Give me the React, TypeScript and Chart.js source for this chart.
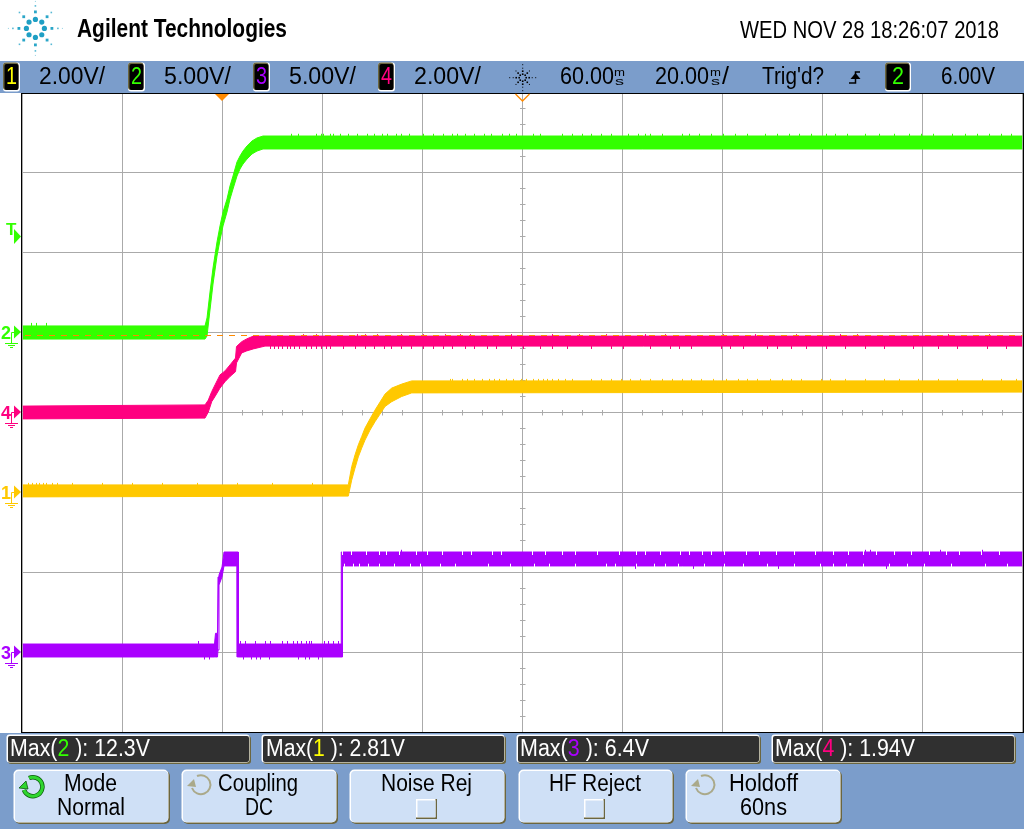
import React, { useEffect, useRef } from "react";
import { Chart, registerables } from "chart.js";

Chart.register(...registerables);

const WIDTH = 1024;
const HEIGHT = 829;
const FONT = "'Liberation Sans', Arial, sans-serif";

const GREEN = "#33ff00";
const PINK = "#ff0080";
const YELLOW = "#ffc800";
const PURPLE = "#aa00ff";
const ORANGE = "#ff8a00";
const GRID = "#aaaaaa";
const BAR = "#7b9dcb";
const BTN = "#cfe0f6";
const KHAKI = "#6b6640";
const BADGE_YELLOW = "#ffff00";

// Channel 2 (5 V/div), envelope of the noisy trace
const ch2Times = [-40, -3.5, -3.1, -2.5, -1.9, -1.1, -0.5, 0.1, 0.9, 1.5, 2.1, 2.9, 3.5, 4.1, 4.9, 5.9, 6.9, 8.1, 160];
const ch2Upper = [0.41, 0.41, 0.91, 2.53, 4.03, 5.66, 6.66, 7.53, 8.34, 9.16, 9.78, 10.66, 11.03, 11.34, 11.66, 11.97, 12.16, 12.28, 12.28];
const ch2Lower = [-0.41, -0.41, -0.22, 1.41, 3.03, 4.78, 5.78, 6.66, 7.53, 8.34, 8.97, 9.78, 10.22, 10.53, 10.84, 11.16, 11.34, 11.47, 11.47];
const ch2SpikeTimes = [13.8, 15.1, 18.7, 19.7, 20.2, 21.6, 22.1, 23.6, 25.1, 27, 29, 30.4, 31.9, 32.9, 34.8, 35.8, 37.3, 40.2, 42.1, 44.1, 46, 47, 48.5, 50.4, 52.4, 53.8, 56, 57.3, 58.7, 62.1, 63.6, 68, 69.9, 71.9, 73.8, 75.8, 77.7, 81.2, 83.1, 84.6, 85.5, 88, 91.9, 93.4, 95.3, 97.7, 100.2, 102.6, 105, 108.5, 110.9, 113.4, 115.3, 117.7, 120.7, 122.6, 125, 128.5, 131.4, 134.3, 137.3, 139.7, 142.1, 146, 148.5, 150.9, 153.4, 155.8, 157.7];
const ch2LeftSpikeTimes = [-38.2, -37.2, -35.3];
const triggerLevelTimes = [-40, 160];
const triggerLevelVolts = [-0.1875, -0.1875];

// Channel 4 (2 V/div)
const ch4Times = [-40, -3.5, -2.84, -2.16, -1.5, -0.5, 0.5, 1.5, 2.6, 2.8, 3.84, 4.84, 6.16, 8.5, 160];
const ch4Upper = [0.16, 0.19, 0.31, 0.52, 0.69, 0.94, 1.04, 1.19, 1.36, 1.65, 1.77, 1.84, 1.91, 1.91, 1.91];
const ch4Lower = [-0.16, -0.14, 0.01, 0.27, 0.4, 0.61, 0.77, 0.9, 1.02, 1.24, 1.49, 1.54, 1.59, 1.66, 1.66];
const ch4DownSpikeTimes = [9.6, 10.4, 11.2, 11.9, 12.9, 13.5, 14.3, 15.3, 16.8, 17.7, 18.7, 19.7, 20.7, 21.6, 24.1, 26.5, 28.5, 30.4, 32.4, 33.8, 35.8, 37.7, 40.2, 42.1, 44.1, 46, 48.5, 50.4, 52.9, 54.8, 57.7, 60.2, 63.6, 66, 69, 73.8, 77.7, 80.2, 85.5, 89.5, 91.4, 93.8, 99.7, 101.6, 104.1, 109, 110.9, 113.8, 116.8, 120.7, 124.6, 128.5, 132.4, 138.2, 143.1, 147, 152.9, 156.8];
const ch4UpSpikeTimes = [16.1, 18.7, 27, 28.5, 30.9, 35.8, 40.2, 44.6, 47.5, 49.5, 57.7, 66, 71.4, 76.8, 84.6, 88.5, 100.2, 106.5, 114.8, 123.6, 127, 145.1, 153.4];

// Channel 1 (2 V/div)
const ch1Times = [-40, 25.16, 25.84, 26.5, 27.16, 27.84, 28.5, 29.5, 30.5, 31.5, 32.5, 33.84, 35.84, 37.84, 160];
const ch1Upper = [0.19, 0.19, 0.645, 0.94, 1.19, 1.4, 1.61, 1.84, 2.06, 2.26, 2.46, 2.61, 2.71, 2.79, 2.79];
const ch1Lower = [-0.11, -0.09, 0.31, 0.61, 0.89, 1.11, 1.31, 1.56, 1.77, 1.96, 2.15, 2.27, 2.4, 2.49, 2.51];
const ch1SpikeTimes = [45.5, 46, 48, 49, 50.4, 51.9, 53.4, 54.3, 55.3, 56.8, 58.2, 59.7, 60.7, 62.1, 63.1, 64.1, 65, 66, 67.2, 68.5, 69.9, 73.8, 75.8, 77.7, 79.7, 81.6, 83.6, 85.5, 88, 89.9, 91.9, 93.8, 95.8, 98.2, 100.7, 103.1, 105, 107, 109.5, 111.9, 113.8, 115.8, 119.7, 121.6, 124.6, 128.5, 132.4, 135.4, 139.2, 143.1, 147, 151.9, 155.8, 158.7];
const ch1LeftSpikeTimes = [-38.8, -38, -37.2, -36.6, -35.8, -35.2, -34, -33, -30, -24, -18, -12, -5, 3, 10, 18];

// Channel 3 (5 V/div)
const ch3Times = [-40, -1.6, -1.4, -1, -0.9, -0.7, -0.1, 0.3, 2.9, 2.95, 3.15, 3.2, 23.7, 23.75, 23.95, 24, 160];
const ch3Upper = [0.53, 0.53, 1.2, 1.2, 4.72, 4.85, 5.34, 6.28, 6.28, 6.28, 6.28, 0.53, 0.53, 6.28, 6.28, 6.28, 6.28];
const ch3Lower = [-0.28, -0.28, -0.28, -0.28, 0.16, 4.22, 4.72, 5.41, 5.41, -0.28, -0.28, -0.28, -0.28, -0.28, -0.28, 5.41, 5.41];
const ch3LowUpSpikeTimes = [-4.9, 3.5, 4.5, 6.5, 8.5, 9.5, 12, 13, 14.1, 15, 15.8, 16.8, 17.4, 17.8, 20.3, 21.1, 22.1, 23.1];
const ch3LowDownSpikeTimes = [-3.7, -2.7, 4.1, 5.8, 6.8, 7.6, 9.3, 15.2, 16.6, 17.4, 19.2];
const ch3HighUpSpikeTimes = [35.7, 128.5, 129.5, 143.5, 152];
const ch3HighDownSpikeTimes = [82.5, 94.2, 111.1, 132.8];
const ch3TopNotchTimes = [23.9, 25.7, 28.7, 31.4, 32.7, 35.3, 38.8, 41, 44, 47.9, 49.7, 54, 55.8, 61.9, 64.5, 68, 70.6, 75, 79.3, 82.8, 84.6, 87.6, 91.6, 93.3, 95.9, 97.7, 100.3, 104.7, 107.3, 110.8, 114.3, 118.6, 122.1, 125.2, 128.2, 130.8, 134.3, 137.8, 141.3, 144.8, 147.4, 151.8, 155.3];
const ch3BottomNotchTimes = [24.4, 26.1, 27.4, 29.2, 31.4, 34.4, 37.5, 39.6, 43.6, 46.6, 53.2, 57.5, 62.3, 65.4, 70.6, 76.7, 78.5, 82.8, 86.3, 88.5, 91.1, 96.4, 100.3, 104.2, 109, 114.3, 119.5, 122.1, 124.7, 128.2, 133.4, 137, 140.4, 145.7, 152.6, 157];

const timeStepMs = 20;
const timeRange = [-40, 160];
const ch2Range = [-25, 15];
const ch4Range = [-8, 8];
const ch1Range = [-6, 10];
const ch3Range = [-5, 35];

const scaleLabels = [
  { badge: "1", color: BADGE_YELLOW, badgeX: 3, text: "2.00V/", x: 39, w: 66 },
  { badge: "2", color: GREEN, badgeX: 128, text: "5.00V/", x: 164, w: 67 },
  { badge: "3", color: PURPLE, badgeX: 253, text: "5.00V/", x: 289, w: 67 },
  { badge: "4", color: PINK, badgeX: 378, text: "2.00V/", x: 414, w: 67 },
];
const measurements = [
  { ch: "2", color: GREEN, value: "12.3V", x: 6, tx: 10, w: 140 },
  { ch: "1", color: BADGE_YELLOW, value: "2.81V", x: 261, tx: 266, w: 139 },
  { ch: "3", color: PURPLE, value: "6.4V", x: 516, tx: 520, w: 129 },
  { ch: "4", color: PINK, value: "1.94V", x: 771, tx: 775, w: 140 },
];
const markers = [
  { label: "2", y: 332, color: GREEN },
  { label: "4", y: 412, color: PINK },
  { label: "1", y: 492, color: YELLOW },
  { label: "3", y: 652, color: PURPLE },
];

function band(times: number[], values: number[]) {
  return times.map((t, i) => ({ x: t, y: values[i] }));
}
// one horizontal screen pixel is 0.2 ms: noise ticks snap to it so they stay crisp
function ticksAt(times: number[], from: number, to: number) {
  const out: { x: number; y: number | null }[] = [];
  times.forEach((t) => {
    const snapped = Math.round(t * 5) / 5;
    out.push({ x: snapped, y: from }, { x: snapped, y: to }, { x: snapped, y: null });
  });
  return out;
}
function bandSets(axis: string, color: string, times: number[], upper: number[], lower: number[]) {
  const common = { yAxisID: axis, showLine: true, pointRadius: 0, borderWidth: 1, borderColor: color, tension: 0, order: 3 };
  return [
    { ...common, data: band(times, upper), fill: "+1", backgroundColor: color },
    { ...common, data: band(times, lower), fill: false },
  ];
}
function tickSet(axis: string, color: string, times: number[], from: number, to: number, order = 2) {
  return {
    yAxisID: axis,
    showLine: true,
    pointRadius: 0,
    borderWidth: 1,
    borderColor: color,
    spanGaps: false,
    fill: false,
    order,
    data: ticksAt(times, from, to),
  };
}

const framePlugin = {
  id: "scopeFrame",
  beforeDatasetsDraw(chart: any) {
    const { ctx, scales } = chart;
    const x = scales.x;
    const y = scales.y2;
    const cx = Math.round(x.getPixelForValue(60) - 0.5) + 0.5;
    const cy = Math.round(y.getPixelForValue(-5) - 0.5) + 0.5;
    ctx.save();
    ctx.strokeStyle = GRID;
    ctx.lineWidth = 1;
    ctx.beginPath();
    for (let t = -36; t < 160; t += 4) {
      const px = Math.round(x.getPixelForValue(t) - 0.5) + 0.5;
      ctx.moveTo(px, cy - 2.5);
      ctx.lineTo(px, cy + 3);
    }
    for (let v = 14; v > -25; v -= 1) {
      const py = Math.round(y.getPixelForValue(v) - 0.5) + 0.5;
      ctx.moveTo(cx - 2.5, py);
      ctx.lineTo(cx + 3, py);
    }
    ctx.stroke();
    ctx.restore();
  },
  afterDraw(chart: any) {
    const { ctx } = chart;
    ctx.save();
    ctx.strokeStyle = "#000000";
    ctx.lineWidth = 1;
    ctx.strokeRect(21.5, 93.5, 1002, 639);
    ctx.restore();
  },
};

function Txt({ x, y, w, size = 23.5, fill = "#000", weight = 400, children }: any) {
  return (
    <text x={x} y={y} textLength={w} lengthAdjust="spacingAndGlyphs" fontSize={size} fill={fill} fontWeight={weight} fontFamily={FONT}>
      {children}
    </text>
  );
}

function Raised({ x, y, w, h, fill, r = 5 }: any) {
  return (
    <g>
      <rect x={x + 1} y={y + 1} width={w} height={h} rx={r} fill={KHAKI} />
      <rect x={x - 0.5} y={y - 0.5} width={w} height={h} rx={r} fill="#ffffff" />
      <rect x={x + 1} y={y + 1} width={w - 2} height={h - 2} rx={r - 1} fill={fill} />
    </g>
  );
}

function Badge({ x, w, label, color }: any) {
  return (
    <g>
      <rect x={x} y={62.5} width={w} height={29} rx={3} fill="#ffffff" />
      <rect x={x} y={62.5} width={w - 1.5} height={27.5} rx={3} fill={KHAKI} />
      <rect x={x + 1.5} y={64} width={w - 3} height={26} rx={2} fill="#000000" />
      <text x={x + w / 2} y={84} textAnchor="middle" fontSize={23.5} fill={color} fontFamily={FONT} textLength={w > 20 ? 12 : 11} lengthAdjust="spacingAndGlyphs">
        {label}
      </text>
    </g>
  );
}

function Refresh({ cx, cy, color, dark }: any) {
  const r = 9.5;
  return (
    <g>
      <path d={`M ${cx - 4} ${cy - r + 0.5} A ${r} ${r} 0 1 1 ${cx - r + 0.5} ${cy + 3}`} fill="none" stroke={dark} strokeWidth={dark === "none" ? 0 : 4.5} />
      <path d={`M ${cx - 4} ${cy - r + 0.5} A ${r} ${r} 0 1 1 ${cx - r + 0.5} ${cy + 3}`} fill="none" stroke={color} strokeWidth={dark === "none" ? 2 : 3} />
      <path d={`M ${cx - 14} ${cy + 1} L ${cx - 7} ${cy - 6} L ${cx - 5} ${cy + 2} Z`} fill={color} stroke={dark === "none" ? "none" : dark} strokeWidth={0.8} />
    </g>
  );
}

function Logo() {
  const cx = 35.4;
  const cy = 28.4;
  const dots: React.ReactNode[] = [];
  for (let i = 0; i < 8; i++) {
    const a = (i * Math.PI) / 4 + Math.PI / 2;
    const c = Math.cos(a);
    const s = Math.sin(a);
    dots.push(<circle key={`a${i}`} cx={cx + 9 * c} cy={cy + 9 * s} r={2.6} fill="#1f9fc4" />);
    dots.push(<rect key={`b${i}`} x={cx + 16.5 * c - 1.4} y={cy + 16.5 * s - 1.4} width={2.8} height={2.8} fill="#2aa6c8" />);
    dots.push(<rect key={`c${i}`} x={cx + 22.5 * c - 0.8} y={cy + 22.5 * s - 0.8} width={1.6} height={1.6} fill="#58b9d4" />);
    if (i % 2 === 0) {
      dots.push(<rect key={`d${i}`} x={cx + 27 * c - 0.5} y={cy + 27 * s - 0.5} width={1} height={1} fill="#8fcfe0" />);
    }
  }
  return <g>{dots}</g>;
}

function Graticon() {
  const cx = 522.7;
  const cy = 77.7;
  const d: React.ReactNode[] = [];
  for (let i = 0; i < 8; i++) {
    const a = (i * Math.PI) / 4;
    [3.5, 6.5, 9.5, 13].forEach((r, j) => {
      if (j === 3 && i % 2) return;
      const sz = j < 2 ? 1.6 : 1;
      d.push(<rect key={`${i}-${j}`} x={cx + r * Math.cos(a) - sz / 2} y={cy + r * Math.sin(a) - sz / 2} width={sz} height={sz} fill="#000" />);
    });
  }
  return <g>{d}</g>;
}

function Marker({ label, y, color }: any) {
  return (
    <g>
      <text x={1} y={y + 7} fontSize={19} fontWeight={700} fill={color} fontFamily={FONT} textLength={10} lengthAdjust="spacingAndGlyphs">
        {label}
      </text>
      <path d={`M 14 ${y - 6.5} L 21 ${y} L 14 ${y + 6.5} Z`} fill={color} />
      <path d={`M 14 ${y + 0.5} H 11.5 V ${y + 11}`} fill="none" stroke={color} strokeWidth={1} />
      <path d={`M 5 ${y + 11.5} H 18 M 8 ${y + 13.5} H 15 M 10 ${y + 15.5} H 13`} fill="none" stroke={color} strokeWidth={1} />
    </g>
  );
}

function CheckBox({ x }: any) {
  return (
    <g>
      <rect x={x} y={799} width={21} height={20} fill={KHAKI} />
      <rect x={x} y={799} width={19.5} height={18.5} fill="#ffffff" />
      <rect x={x + 1.5} y={800.5} width={18} height={16.5} fill={BTN} />
    </g>
  );
}

export default function App() {
  const ref = useRef<HTMLCanvasElement | null>(null);

  useEffect(() => {
    if (!ref.current) return;
    const chart = new Chart(ref.current, {
      type: "scatter",
      data: {
        datasets: [
          {
            yAxisID: "y2",
            showLine: true,
            pointRadius: 0,
            borderWidth: 1,
            borderColor: ORANGE,
            borderDash: [6, 6],
            borderDashOffset: -2.5,
            fill: false,
            order: 0,
            data: band(triggerLevelTimes, triggerLevelVolts),
          },
          ...bandSets("y2", GREEN, ch2Times, ch2Upper, ch2Lower),
          tickSet("y2", GREEN, ch2SpikeTimes, 11.9, 12.42),
          tickSet("y2", GREEN, ch2LeftSpikeTimes, 0, 0.6),
          ...bandSets("y4", PINK, ch4Times, ch4Upper, ch4Lower),
          tickSet("y4", PINK, ch4DownSpikeTimes, 1.8, 1.59),
          tickSet("y4", PINK, ch4UpSpikeTimes, 1.8, 1.96),
          ...bandSets("y1", YELLOW, ch1Times, ch1Upper, ch1Lower),
          tickSet("y1", YELLOW, ch1SpikeTimes, 2.65, 2.84),
          tickSet("y1", YELLOW, ch1LeftSpikeTimes, 0.05, 0.24),
          ...bandSets("y3", PURPLE, ch3Times, ch3Upper, ch3Lower),
          tickSet("y3", PURPLE, ch3LowUpSpikeTimes, 0.2, 0.72),
          tickSet("y3", PURPLE, ch3LowDownSpikeTimes, 0.2, -0.42),
          tickSet("y3", PURPLE, ch3HighUpSpikeTimes, 5.9, 6.42),
          tickSet("y3", PURPLE, ch3HighDownSpikeTimes, 5.9, 5.25),
          tickSet("y3", "#ffffff", ch3TopNotchTimes, 6.38, 6.1, 1),
          tickSet("y3", "#ffffff", ch3BottomNotchTimes, 5.31, 5.55, 1),
        ] as any,
      },
      options: {
        responsive: false,
        animation: false,
        layout: { padding: { left: 22.5, top: 92.5, right: 1.5, bottom: 96.5 } },
        plugins: { legend: { display: false }, tooltip: { enabled: false }, title: { display: false } },
        scales: {
          x: {
            type: "linear",
            min: timeRange[0],
            max: timeRange[1],
            ticks: { display: false, stepSize: timeStepMs },
            border: { display: false },
            grid: { color: GRID, drawTicks: false, lineWidth: 1 },
          },
          y2: {
            type: "linear",
            position: "left",
            min: ch2Range[0],
            max: ch2Range[1],
            ticks: { display: false, stepSize: 5 },
            border: { display: false },
            grid: { color: GRID, drawTicks: false, lineWidth: 1 },
          },
          y4: { type: "linear", display: false, min: ch4Range[0], max: ch4Range[1] },
          y1: { type: "linear", display: false, min: ch1Range[0], max: ch1Range[1] },
          y3: { type: "linear", display: false, min: ch3Range[0], max: ch3Range[1] },
        },
      } as any,
      plugins: [framePlugin],
    });
    return () => chart.destroy();
  }, []);

  return (
    <div style={{ position: "absolute", left: 0, top: 0, width: WIDTH, height: HEIGHT, background: "#ffffff", overflow: "hidden" }}>
      <canvas ref={ref} width={WIDTH} height={HEIGHT} style={{ position: "absolute", left: 0, top: 0, display: "block" }} />
      <svg width={WIDTH} height={HEIGHT} style={{ position: "absolute", left: 0, top: 0 }}>
        <Logo />
        <Txt x={77} y={37} w={210} size={25} weight={700}>Agilent Technologies</Txt>
        <Txt x={740} y={38} w={259}>WED NOV 28 18:26:07 2018</Txt>

        <rect x={0} y={61} width={WIDTH} height={32} fill={BAR} />
        {scaleLabels.map((s) => (
          <g key={s.badge}>
            <Badge x={s.badgeX} w={17} label={s.badge} color={s.color} />
            <Txt x={s.x} y={84} w={s.w}>{s.text}</Txt>
          </g>
        ))}
        <Graticon />
        <Txt x={560} y={84} w={54}>60.00</Txt>
        <Txt x={614} y={76} w={11} size={11}>m</Txt>
        <Txt x={615} y={85} w={9} size={11}>s</Txt>
        <Txt x={655} y={84} w={54}>20.00</Txt>
        <Txt x={710} y={76} w={11} size={11}>m</Txt>
        <Txt x={711} y={85} w={9} size={11}>s</Txt>
        <Txt x={722} y={84} w={7}>/</Txt>
        <Txt x={762} y={84} w={62}>Trig'd?</Txt>
        <path d="M 849 83 H 855.5 V 72 H 860" fill="none" stroke="#000" strokeWidth={1.5} />
        <path d="M 850.5 79 L 855.5 73 L 860.5 79 Z" fill="#000" />
        <Badge x={885} w={26} label="2" color={GREEN} />
        <Txt x={941} y={84} w={54}>6.00V</Txt>

        <path d="M 215 94 H 229 L 222 101 Z" fill={ORANGE} />
        <path d="M 515.5 94 L 522.5 101 L 529.5 94" fill="none" stroke={ORANGE} strokeWidth={1.3} />

        <text x={6} y={235} fontSize={17} fontWeight={700} fill={GREEN} fontFamily={FONT}>T</text>
        <path d="M 14 229 L 21 236.5 L 14 244 Z" fill={GREEN} />
        {markers.map((m) => (
          <Marker key={m.label} {...m} />
        ))}

        <rect x={0} y={733} width={WIDTH} height={96} fill={BAR} />
        {measurements.map((m) => (
          <g key={m.ch}>
            <Raised x={m.x + 1} y={735} w={243} h={28} fill="#303030" r={3} />
            <text x={m.tx} y={756} textLength={m.w} lengthAdjust="spacingAndGlyphs" fontSize={23.5} fill="#ffffff" fontFamily={FONT}>
              Max(<tspan fill={m.color}>{m.ch}</tspan> ): {m.value}
            </text>
          </g>
        ))}

        <Raised x={14} y={770} w={155} h={53} fill={BTN} />
        <Raised x={182} y={770} w={155} h={53} fill={BTN} />
        <Raised x={350} y={770} w={155} h={53} fill={BTN} />
        <Raised x={519} y={770} w={154} h={53} fill={BTN} />
        <Raised x={686} y={770} w={155} h={53} fill={BTN} />
        <Refresh cx={33} cy={787} color="#2fd62f" dark="#0b5a0b" />
        <Refresh cx={201} cy={785} color="#aaa98a" dark="none" />
        <Refresh cx={705} cy={785} color="#aaa98a" dark="none" />
        <Txt x={64} y={791} w={53}>Mode</Txt>
        <Txt x={57} y={815} w={68}>Normal</Txt>
        <Txt x={218} y={791} w={80}>Coupling</Txt>
        <Txt x={245} y={815} w={28}>DC</Txt>
        <Txt x={381} y={791} w={91}>Noise Rej</Txt>
        <CheckBox x={416} />
        <Txt x={549} y={791} w={92}>HF Reject</Txt>
        <CheckBox x={584} />
        <Txt x={729} y={791} w={69}>Holdoff</Txt>
        <Txt x={740} y={815} w={47}>60ns</Txt>
      </svg>
    </div>
  );
}
